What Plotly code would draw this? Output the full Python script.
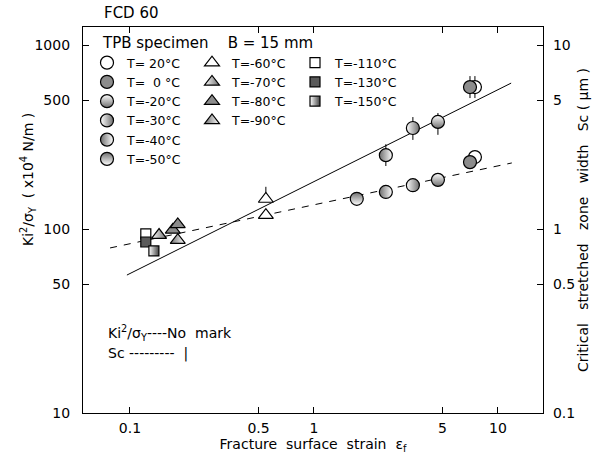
import plotly.graph_objects as go

# ---------------- data ----------------
# Ki^2/sigma_Y  (x10^4 N/m), left axis, plotted without mark
ki_temps = ["20", "0", "-20", "-30", "-40", "-50", "-60", "-70", "-80", "-80", "-90", "-110", "-130", "-150"]
ki_ef = [7.5, 7.05, 4.72, 3.45, 2.46, 1.71, 0.548, 0.144, 0.171, 0.182, 0.182, 0.122, 0.122, 0.135]
ki_val = [246, 231, 185, 173, 159, 146, 119, 92.7, 98.9, 106, 87, 94, 85, 76]

# Sc (um), right axis, plotted with a vertical bar
sc_temps = ["20", "0", "-20", "-30", "-40", "-60"]
sc_ef = [7.5, 7.05, 4.72, 3.45, 2.46, 0.548]
sc_val = [5.91, 5.91, 3.82, 3.54, 2.52, 1.456]
sc_err_up = [0.87, 0.87, 0.45, 0.52, 0.37, 0.24]
sc_err_dn = [0.76, 0.76, 0.57, 0.49, 0.32, 0.0]

# fitted lines
fit_sc_ef = [0.0963, 11.8]
fit_sc_val = [0.562, 6.21]
fit_ki_ef = [0.078, 11.9]
fit_ki_val = [78.9, 228.6]

# legend (three columns)
col1_temps = ["20", "0", "-20", "-30", "-40", "-50"]
col2_temps = ["-60", "-70", "-80", "-90"]
col3_temps = ["-110", "-130", "-150"]
temp_labels = {
    "20": "T= 20°C", "0": "T=  0 °C", "-20": "T=-20°C", "-30": "T=-30°C",
    "-40": "T=-40°C", "-50": "T=-50°C", "-60": "T=-60°C", "-70": "T=-70°C",
    "-80": "T=-80°C", "-90": "T=-90°C", "-110": "T=-110°C", "-130": "T=-130°C",
    "-150": "T=-150°C",
}

x_ticks = [0.1, 0.5, 1, 5, 10]
x_ticktext = ["0.1", "0.5", "1", "5", "10"]
y_ticks = [10, 50, 100, 500, 1000]
y_ticktext = ["10", "50", "100", "500", "1000"]
y2_ticks = [0.1, 0.5, 1, 5, 10]
y2_ticktext = ["0.1", "0.5", "1", "5", "10"]

# ---------------- styles ----------------
GRAY = "#8c8c8c"
SHADE = "#6e6e6e"
styles = {
    "20": dict(symbol="circle", color="white", size=13),
    "0": dict(symbol="circle", color=GRAY, size=13),
    "-20": dict(symbol="circle", color="white", size=13, gradient=dict(type="vertical", color=SHADE)),
    "-30": dict(symbol="circle", color="white", size=13, gradient=dict(type="horizontal", color=SHADE)),
    "-40": dict(symbol="circle", color=SHADE, size=13, gradient=dict(type="horizontal", color="white")),
    "-50": dict(symbol="circle", color=SHADE, size=13, gradient=dict(type="vertical", color="white")),
    "-60": dict(symbol="triangle-up", color="white", size=13),
    "-70": dict(symbol="triangle-up", color="white", size=13, gradient=dict(type="horizontal", color=SHADE)),
    "-80": dict(symbol="triangle-up", color=GRAY, size=13),
    "-90": dict(symbol="triangle-up", color=SHADE, size=13, gradient=dict(type="horizontal", color="white")),
    "-110": dict(symbol="square", color="white", size=10),
    "-130": dict(symbol="square", color="#5a5a5a", size=10),
    "-150": dict(symbol="square", color="white", size=10, gradient=dict(type="horizontal", color="#444444")),
}
FONT = "DejaVu Sans"

fig = go.Figure()

# fitted lines
fig.add_trace(go.Scatter(x=fit_sc_ef, y=fit_sc_val, mode="lines", yaxis="y2",
                         line=dict(color="black", width=1), showlegend=False, hoverinfo="skip"))
fig.add_trace(go.Scatter(x=fit_ki_ef, y=fit_ki_val, mode="lines",
                         line=dict(color="black", width=1, dash="7px,7px"), showlegend=False, hoverinfo="skip"))

legend_of = {}
for t in col1_temps:
    legend_of[t] = "legend"
for t in col2_temps:
    legend_of[t] = "legend2"
for t in col3_temps:
    legend_of[t] = "legend3"

for t in col1_temps + col2_temps + col3_temps:
    st = styles[t]
    marker = dict(symbol=st["symbol"], color=st["color"], size=st["size"],
                  line=dict(color="black", width=1.2))
    if "gradient" in st:
        marker["gradient"] = st["gradient"]
    shown = False
    ki_idx = [i for i, v in enumerate(ki_temps) if v == t]
    if ki_idx:
        fig.add_trace(go.Scatter(
            x=[ki_ef[i] for i in ki_idx], y=[ki_val[i] for i in ki_idx],
            mode="markers", marker=marker, name=temp_labels[t], legendgroup=t,
            legend=legend_of[t], showlegend=True))
        shown = True
    sc_idx = [i for i, v in enumerate(sc_temps) if v == t]
    if sc_idx:
        fig.add_trace(go.Scatter(
            x=[sc_ef[i] for i in sc_idx], y=[sc_val[i] for i in sc_idx], yaxis="y2",
            mode="markers", marker=marker, name=temp_labels[t], legendgroup=t,
            legend=legend_of[t], showlegend=not shown,
            error_y=dict(type="data", symmetric=False,
                         array=[sc_err_up[i] for i in sc_idx],
                         arrayminus=[sc_err_dn[i] for i in sc_idx],
                         width=0, thickness=1, color="black")))

W, H = 593, 461
L, R, T, B = 83, 50, 27, 48
pw, ph = W - L - R, H - T - B


def px(xp):
    return (xp - L) / pw


def py(yp):
    return (H - B - yp) / ph


leg_common = dict(bgcolor="rgba(0,0,0,0)", borderwidth=0, tracegroupgap=0,
                  font=dict(family=FONT, size=12.5, color="black"),
                  yanchor="top", xanchor="left", itemclick=False)

axis_common = dict(type="log", showgrid=False, zeroline=False, showline=True,
                   linecolor="black", linewidth=1.2, ticks="inside", ticklen=6,
                   tickcolor="black", tickwidth=1, automargin=False,
                   tickfont=dict(family=FONT, size=14, color="black"))

fig.update_layout(
    width=W, height=H,
    margin=dict(l=L, r=R, t=T, b=B, pad=0, autoexpand=False),
    paper_bgcolor="white", plot_bgcolor="white",
    font=dict(family=FONT, color="black"),
    xaxis=dict(axis_common, range=[-1.255, 1.245], tickvals=x_ticks, ticktext=x_ticktext,
               mirror="ticks", ticklabelstandoff=2,
               title=dict(text="Fracture  surface  strain  ε<sub>f</sub>", standoff=4,
                          font=dict(family=FONT, size=14, color="black"))),
    yaxis=dict(axis_common, range=[1, 3.098], tickvals=y_ticks, ticktext=y_ticktext,
               ticklabelstandoff=9),
    yaxis2=dict(axis_common, range=[-1, 1.098], tickvals=y2_ticks, ticktext=y2_ticktext,
                overlaying="y", side="right", ticklabelstandoff=6,
                title=dict(text="Critical   stretched   zone   width   Sc ( μm )", standoff=3,
                           font=dict(family=FONT, size=14, color="black"))),
    legend=dict(leg_common, x=px(87), y=py(48)),
    legend2=dict(leg_common, x=px(192), y=py(48)),
    legend3=dict(leg_common, x=px(295), y=py(48)),
    annotations=[
        dict(text="FCD 60", xref="paper", yref="paper", x=px(102), y=py(13),
             xanchor="left", yanchor="middle", showarrow=False,
             font=dict(family=FONT, size=15, color="black")),
        dict(text="TPB specimen    B = 15 mm", xref="paper", yref="paper", x=px(100), y=py(43),
             xanchor="left", yanchor="middle", showarrow=False,
             font=dict(family=FONT, size=15, color="black")),
        dict(text="Ki<sup>2</sup>/σ<sub>Y</sub>  ( x10<sup>4</sup> N/m )", xref="paper", yref="paper",
             x=px(28), y=py(180), textangle=-90, xanchor="center", yanchor="middle",
             showarrow=False, font=dict(family=FONT, size=14, color="black")),
        dict(text="Ki<sup>2</sup>/σ<sub>Y</sub>----No  mark", xref="paper", yref="paper",
             x=px(106), y=py(333), xanchor="left", yanchor="middle", showarrow=False,
             font=dict(family=FONT, size=14, color="black")),
        dict(text="Sc ---------  |", xref="paper", yref="paper",
             x=px(106), y=py(353), xanchor="left", yanchor="middle", showarrow=False,
             font=dict(family=FONT, size=14, color="black")),
    ],
)

fig.write_html("out.html")
